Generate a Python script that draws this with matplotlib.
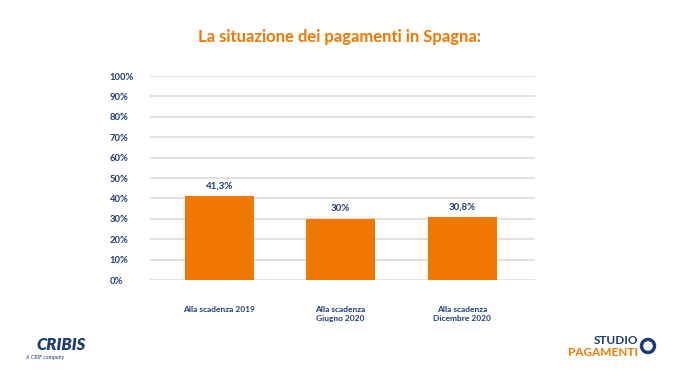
import matplotlib
matplotlib.use("Agg")
import matplotlib.pyplot as plt
from matplotlib.patches import Ellipse
import numpy as np

categories = ["Alla scadenza 2019", "Alla scadenza\nGiugno 2020", "Alla scadenza\nDicembre 2020"]
values = [41.3, 30.0, 30.8]
value_labels = ["41,3%", "30%", "30,8%"]
yticks = [0, 10, 20, 30, 40, 50, 60, 70, 80, 90, 100]
ytick_labels = [f"{t}%" for t in yticks]

W, H = 677, 381
fig = plt.figure(figsize=(W / 100, H / 100), dpi=100)
fig.patch.set_facecolor("white")

navy = "#1d3c78"
orange = "#f07800"
font = "Lato"

# axes: x 150..535 px, y 76..280 px
ax = fig.add_axes([150 / W, 1 - 280 / H, (535 - 150) / W, (280 - 76) / H])
ax.set_facecolor("none")
x = np.arange(len(categories))
ax.bar(x, values, width=0.57, color=orange, zorder=3)
ax.set_xlim(-0.57, 2.6)
ax.set_ylim(0, 100)
for t in yticks:
    ax.axhline(t, color="#dedede", lw=1.3, zorder=1)
for s in ax.spines.values():
    s.set_visible(False)
ax.set_yticks(yticks)
ax.set_yticklabels(ytick_labels, fontsize=6.8, fontweight="bold", color=navy, family=font, ha="left")
ax.tick_params(axis="y", length=0, pad=29)
ax.set_xticks(x)
ax.set_xticklabels(categories, fontsize=6, fontweight="bold", color=navy, family=font, va="top", linespacing=1.25)
ax.tick_params(axis="x", length=0, pad=19)
for xi, v, lab in zip(x, values, value_labels):
    ax.annotate(lab, (xi, v), xytext=(0, 4), textcoords="offset points", ha="center", va="bottom",
                fontsize=7, fontweight="bold", color=navy, family=font)

fig.text(339 / W, 1 - 37 / H, "La situazione dei pagamenti in Spagna:", ha="center", va="center",
         fontsize=12, fontweight="bold", color=orange, family=font)

# logos as text
fig.text(36 / W, 1 - 345 / H, "CRIBIS", ha="left", va="center", fontsize=12, fontweight="heavy",
         style="italic", color=navy, family=font)
fig.text(25 / W, 1 - 357 / H, "A  CRIF company", ha="left", va="center", fontsize=4, style="italic",
         color=navy, family=font)
fig.text(638 / W, 1 - 341 / H, "STUDIO", ha="right", va="center", fontsize=8.5, fontweight="bold",
         color=navy, family=font)
fig.text(638 / W, 1 - 352 / H, "PAGAMENTI", ha="right", va="center", fontsize=8.5, fontweight="bold",
         color=orange, family=font)
ring = Ellipse((648 / W, 1 - 346 / H), 13 / W, 13 / H, transform=fig.transFigure, fill=False,
               ec=navy, lw=2.5)
fig.add_artist(ring)

fig.savefig("out.png", dpi=100, facecolor="white")
